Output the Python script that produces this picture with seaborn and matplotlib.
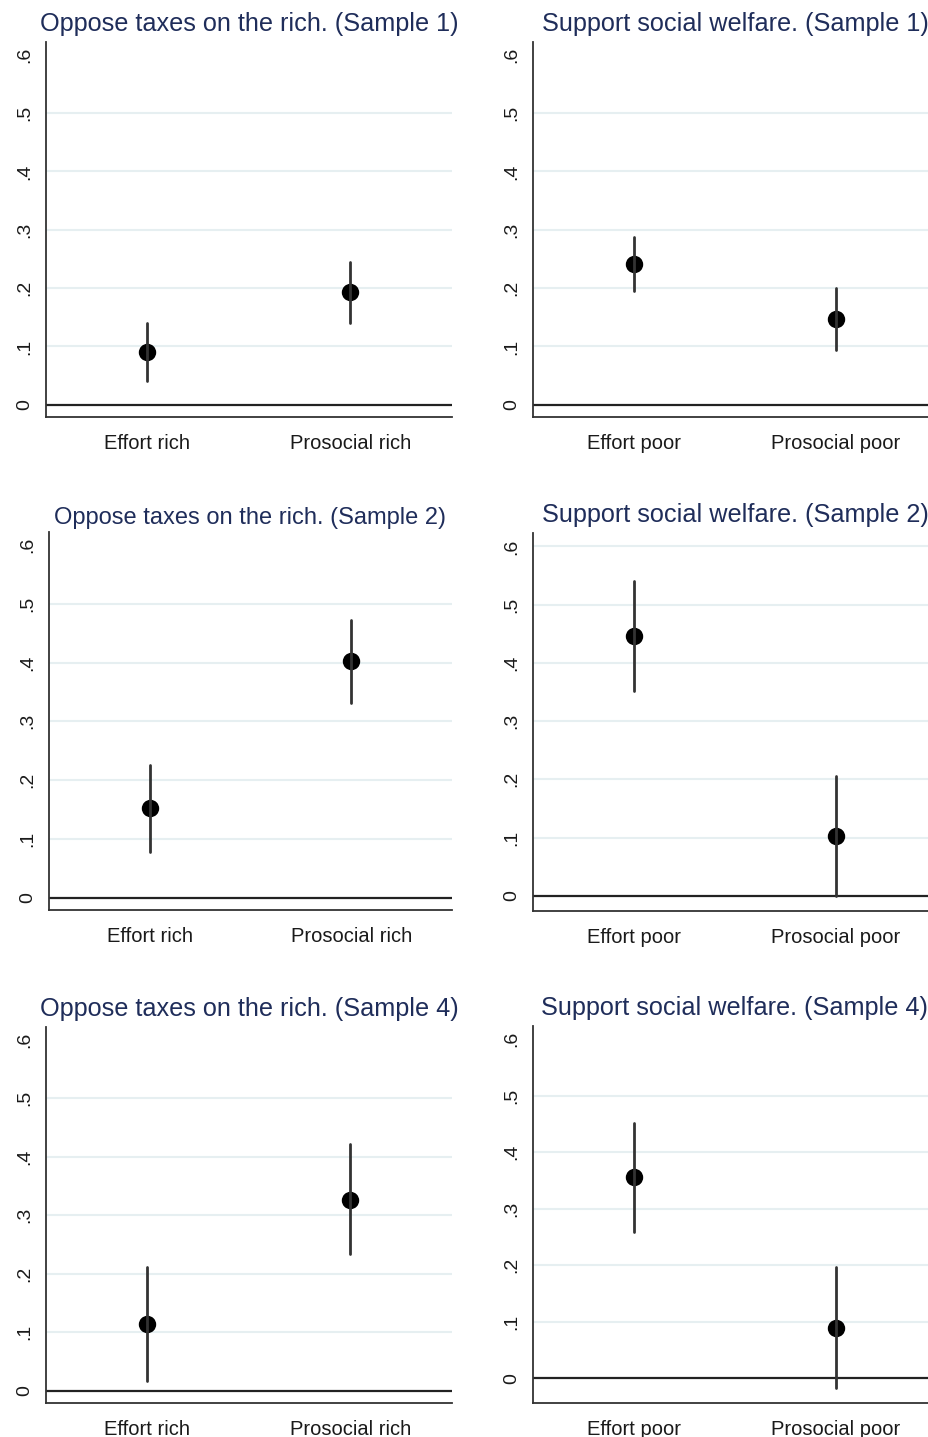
import matplotlib
matplotlib.use("Agg")
import matplotlib.pyplot as plt
import seaborn as sns
import pandas as pd

# ---- data ----
titles = [
    "Oppose taxes on the rich. (Sample 1)", "Support social welfare. (Sample 1)",
    "Oppose taxes on the rich. (Sample 2)", "Support social welfare. (Sample 2)",
    "Oppose taxes on the rich. (Sample 4)", "Support social welfare. (Sample 4)",
]
cats_rich = ["Effort rich", "Prosocial rich"]
cats_poor = ["Effort poor", "Prosocial poor"]
panel_cats = [cats_rich, cats_poor, cats_rich, cats_poor, cats_rich, cats_poor]

est = [[0.091, 0.193], [0.242, 0.147],
       [0.152, 0.402], [0.446, 0.102],
       [0.114, 0.327], [0.355, 0.088]]
lo = [[0.040, 0.141], [0.195, 0.094],
      [0.078, 0.331], [0.351, 0.000],
      [0.016, 0.233], [0.258, -0.018]]
hi = [[0.141, 0.245], [0.288, 0.201],
      [0.226, 0.473], [0.541, 0.205],
      [0.211, 0.422], [0.452, 0.196]]
yticks = [0, 0.1, 0.2, 0.3, 0.4, 0.5, 0.6]
ytick_labels = ["0", ".1", ".2", ".3", ".4", ".5", ".6"]

# ---- layout (pixels) ----
W, H = 929, 1437
boxes = [  # left, right, top, bottom
    (46, 452, 42, 417), (533, 937, 42, 417),
    (49, 452, 532, 910), (533, 937, 533, 911),
    (46, 452, 1027, 1403), (533, 937, 1026, 1403),
]
ylims = [(-0.021, 0.622), (-0.021, 0.622), (-0.021, 0.622),
         (-0.026, 0.623), (-0.021, 0.622), (-0.044, 0.623)]
title_sizes = [18.2, 18.2, 17.0, 18.2, 18.2, 18.2]
title_pads = [8, 8, 6, 8, 8, 8]

sns.set_theme(style="white")
plt.rcParams["font.family"] = ["Liberation Sans", "DejaVu Sans"]

fig = plt.figure(figsize=(W / 100, H / 100), dpi=100)
fig.patch.set_facecolor("white")

for i in range(6):
    l, r, t, b = boxes[i]
    ax = fig.add_axes([l / W, 1 - b / H, (r - l) / W, (b - t) / H])
    ax.set_facecolor("white")
    cats = panel_cats[i]
    rows = []
    for j, c in enumerate(cats):
        for v in (lo[i][j], est[i][j], hi[i][j]):
            rows.append({"cat": c, "val": v})
    df = pd.DataFrame(rows)

    # grid lines
    for yv in yticks[1:6]:
        ax.axhline(yv, color="#E6EFF1", lw=1.5, zorder=0)
    if i == 3:
        ax.axhline(0.6, color="#E6EFF1", lw=1.5, zorder=0)
    ax.axhline(0, color="#222222", lw=1.6, zorder=1)

    sns.pointplot(data=df, x="cat", y="val", order=cats, estimator="median",
                  errorbar=lambda v: (v.min(), v.max()), linestyle="none",
                  marker="o", markersize=10.5, color="black",
                  err_kws={"color": "#333333", "linewidth": 2.0}, ax=ax, zorder=3)

    ax.set_xlim(-0.5, 1.5)
    ax.set_ylim(*ylims[i])
    ax.set_yticks(yticks)
    ax.set_yticklabels(ytick_labels, rotation=90, va="center", fontsize=14)
    ax.set_xticks([0, 1])
    ax.set_xticklabels(cats, fontsize=14.5)
    ax.set_xlabel("")
    ax.set_ylabel("")
    ax.tick_params(axis="both", direction="out", length=5, width=1.2,
                   color="#333333", labelcolor="#1a1a1a")
    ax.tick_params(axis="y", pad=4)
    ax.tick_params(axis="x", pad=7)
    for s in ["top", "right"]:
        ax.spines[s].set_visible(False)
    for s in ["left", "bottom"]:
        ax.spines[s].set_color("#333333")
        ax.spines[s].set_linewidth(1.3)
    ax.set_title(titles[i], fontsize=title_sizes[i], color="#1F2D5A",
                 pad=title_pads[i])

fig.savefig("out.png", dpi=100)
